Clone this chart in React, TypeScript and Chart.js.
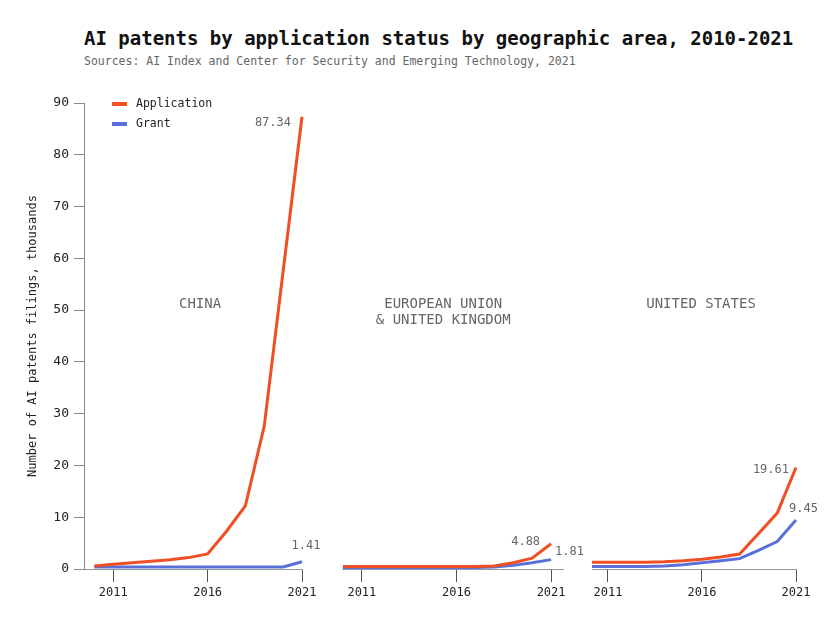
import React, { useEffect, useRef } from "react";
import { Chart, registerables } from "chart.js";

Chart.register(...registerables);

const FONT = '"DejaVu Sans Mono", "Liberation Mono", monospace';

// ---------- data (thousands of filings) ----------
const years = [2010, 2011, 2012, 2013, 2014, 2015, 2016, 2017, 2018, 2019, 2020, 2021];
const chinaApplication = [0.6, 0.9, 1.2, 1.5, 1.8, 2.2, 2.9, 7.3, 12.2, 27.6, 57.5, 87.34];
const chinaGrant = [0.4, 0.4, 0.4, 0.4, 0.4, 0.4, 0.4, 0.4, 0.4, 0.4, 0.4, 1.41];
const euApplication = [0.5, 0.5, 0.5, 0.5, 0.5, 0.5, 0.5, 0.5, 0.6, 1.2, 2.1, 4.88];
const euGrant = [0.3, 0.3, 0.3, 0.3, 0.3, 0.3, 0.3, 0.3, 0.4, 0.7, 1.2, 1.81];
const usApplication = [1.3, 1.3, 1.3, 1.3, 1.4, 1.6, 1.9, 2.3, 2.9, 6.8, 10.8, 19.61];
const usGrant = [0.5, 0.5, 0.5, 0.5, 0.6, 0.8, 1.2, 1.6, 2.0, 3.6, 5.3, 9.45];
const seriesNames = ["Application", "Grant"];
const panelNames = [["CHINA"], ["EUROPEAN UNION", "& UNITED KINGDOM"], ["UNITED STATES"]];
const xTickYears = [2011, 2016, 2021];
const yMin = 0;
const yMax = 90;
const yStep = 10;

const TITLE = "AI patents by application status by geographic area, 2010-2021";
const SUBTITLE = "Sources: AI Index and Center for Security and Emerging Technology, 2021";
const Y_TITLE = "Number of AI patents filings, thousands";

// ---------- styles ----------
const APP_COLOR = "#F04E23";
const GRANT_COLOR = "#5A70D8";
const seriesColors = [APP_COLOR, GRANT_COLOR];

type Place = { align: CanvasTextAlign; dx: number; dy: number };

type Panel = {
  names: string[];
  application: number[];
  grant: number[];
  xMin: number;
  xMax: number;
  left: number;
  width: number;
  padLeft: number;
  padRight: number;
  showY: boolean;
  legend: boolean;
  labelYear: number;
  places: Place[];
  clipLeft: number;
};

const panels: Panel[] = [
  {
    names: panelNames[0],
    application: chinaApplication,
    grant: chinaGrant,
    xMin: 2009.45,
    xMax: 2021,
    left: 0,
    width: 330,
    padLeft: 0,
    padRight: 28,
    showY: true,
    legend: true,
    labelYear: 2015.6,
    places: [
      { align: "right", dx: -11, dy: 6 },
      { align: "center", dx: 4, dy: -16 },
    ],
    clipLeft: 5,
  },
  {
    names: panelNames[1],
    application: euApplication,
    grant: euGrant,
    xMin: 2009.95,
    xMax: 2021.63,
    left: 330,
    width: 262,
    padLeft: 12,
    padRight: 29,
    showY: false,
    legend: false,
    labelYear: 2015.3,
    places: [
      { align: "right", dx: -11, dy: -2 },
      { align: "left", dx: 4, dy: -8 },
    ],
    clipLeft: 5,
  },
  {
    names: panelNames[2],
    application: usApplication,
    grant: usGrant,
    xMin: 2010.15,
    xMax: 2021,
    left: 580,
    width: 252,
    padLeft: 12,
    padRight: 36,
    showY: false,
    legend: false,
    labelYear: 2015.95,
    places: [
      { align: "right", dx: -7, dy: 2 },
      { align: "left", dx: -7, dy: -11 },
    ],
    clipLeft: 0,
  },
];

const CANVAS_TOP = 90;
const CANVAS_H = 530;

function makePlugins(p: Panel) {
  const endLabels = {
    id: "endLabels",
    afterDatasetsDraw(chart: any) {
      const ctx = chart.ctx as CanvasRenderingContext2D;
      ctx.save();
      ctx.font = `12px ${FONT}`;
      ctx.fillStyle = "#666";
      ctx.textBaseline = "middle";
      chart.data.datasets.forEach((ds: any, i: number) => {
        const meta = chart.getDatasetMeta(i);
        const pt = meta.data[meta.data.length - 1];
        const last = ds.data[ds.data.length - 1];
        const v = typeof last === "number" ? last : last.y;
        const place = p.places[i];
        ctx.textAlign = place.align;
        ctx.fillText(v.toFixed(2), pt.x + place.dx, pt.y + place.dy);
      });
      ctx.restore();
    },
  };
  const panelLabel = {
    id: "panelLabel",
    afterDraw(chart: any) {
      const ctx = chart.ctx as CanvasRenderingContext2D;
      const x = chart.scales.x.getPixelForValue(p.labelYear);
      const y0 = chart.scales.y.getPixelForValue(51.2);
      ctx.save();
      ctx.font = `14px ${FONT}`;
      ctx.fillStyle = "#666";
      ctx.textAlign = "center";
      ctx.textBaseline = "middle";
      p.names.forEach((n, i) => ctx.fillText(n, x, y0 + i * 16));
      ctx.restore();
    },
  };
  const legend = {
    id: "customLegend",
    afterDraw(chart: any) {
      if (!p.legend) return;
      const ctx = chart.ctx as CanvasRenderingContext2D;
      const { left, top } = chart.chartArea;
      ctx.save();
      ctx.font = `11.5px ${FONT}`;
      ctx.textBaseline = "middle";
      ctx.textAlign = "left";
      seriesNames.forEach((name, i) => {
        const y = top + 1 + i * 20;
        ctx.strokeStyle = seriesColors[i];
        ctx.lineWidth = 4;
        ctx.beginPath();
        ctx.moveTo(left + 28, y);
        ctx.lineTo(left + 43, y);
        ctx.stroke();
        ctx.fillStyle = "#222";
        ctx.fillText(name, left + 52, y);
      });
      ctx.restore();
    },
  };
  return [endLabels, panelLabel, legend];
}

function makeConfig(p: Panel): any {
  const series = [p.application, p.grant];
  return {
    type: "line",
    data: {
      datasets: series.map((vals, i) => ({
        label: seriesNames[i],
        data: years.map((yr, j) => ({ x: yr, y: vals[j] })),
        borderColor: seriesColors[i],
        backgroundColor: seriesColors[i],
        borderWidth: 3,
        pointRadius: 0,
        tension: 0,
        fill: false,
        clip: { left: p.clipLeft, top: 10, right: 10, bottom: 10 },
      })),
    },
    options: {
      responsive: false,
      animation: false,
      events: [],
      layout: { padding: { left: p.padLeft, right: p.padRight, top: 13, bottom: 0 } },
      plugins: {
        legend: { display: false },
        tooltip: { enabled: false },
        title: { display: false },
      },
      scales: {
        x: {
          type: "linear",
          min: p.xMin,
          max: p.xMax,
          afterBuildTicks: (s: any) => {
            s.ticks = xTickYears.map((v) => ({ value: v }));
          },
          afterFit: (s: any) => {
            s.height = 51;
          },
          grid: {
            display: true,
            drawOnChartArea: false,
            drawTicks: true,
            tickLength: 13,
            color: "#555",
            lineWidth: 1,
          },
          border: { display: true, color: "#999", width: 1 },
          ticks: {
            callback: (v: any) => String(v),
            font: { family: FONT, size: 12 },
            color: "#222",
            padding: 4,
            maxRotation: 0,
            autoSkip: false,
          },
        },
        y: {
          display: p.showY,
          min: yMin,
          max: yMax,
          afterFit: (s: any) => {
            s.width = p.showY ? 84 : 0;
          },
          grid: {
            display: true,
            drawOnChartArea: false,
            drawTicks: true,
            tickLength: 10,
            color: "#888",
          },
          border: { display: true, color: "#888", width: 1 },
          ticks: {
            stepSize: yStep,
            font: { family: FONT, size: 13 },
            color: "#222",
            padding: 5,
          },
          title: {
            display: true,
            text: Y_TITLE,
            font: { family: FONT, size: 12 },
            color: "#222",
            padding: { top: 26, bottom: 0 },
          },
        },
      },
    },
    plugins: makePlugins(p),
  };
}

function PanelChart({ panel }: { panel: Panel }) {
  const ref = useRef<HTMLCanvasElement>(null);
  useEffect(() => {
    if (!ref.current) return;
    const chart = new Chart(ref.current, makeConfig(panel));
    return () => chart.destroy();
  }, [panel]);
  return (
    <canvas
      ref={ref}
      width={panel.width}
      height={CANVAS_H}
      style={{
        position: "absolute",
        left: panel.left,
        top: CANVAS_TOP,
        width: panel.width,
        height: CANVAS_H,
      }}
    />
  );
}

export default function App() {
  return (
    <div
      style={{
        position: "fixed",
        left: 0,
        top: 0,
        width: 832,
        height: 630,
        background: "#fff",
        fontFamily: FONT,
        overflow: "hidden",
      }}
    >
      <div
        style={{
          position: "absolute",
          left: 84,
          top: 27,
          fontSize: 19,
          lineHeight: "22px",
          fontWeight: "bold",
          color: "#111",
          whiteSpace: "nowrap",
        }}
      >
        {TITLE}
      </div>
      <div
        style={{
          position: "absolute",
          left: 84,
          top: 54,
          fontSize: 11.5,
          lineHeight: "14px",
          color: "#666",
          whiteSpace: "nowrap",
        }}
      >
        {SUBTITLE}
      </div>
      {panels.map((p, i) => (
        <PanelChart key={i} panel={p} />
      ))}
    </div>
  );
}
